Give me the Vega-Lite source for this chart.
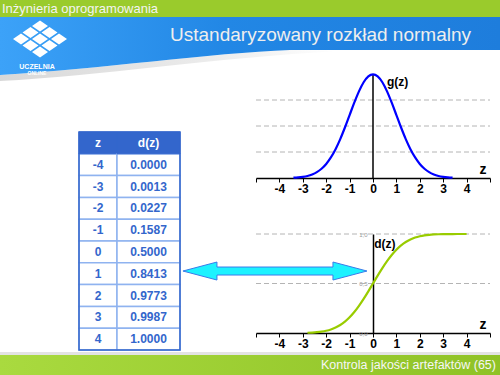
{
  "$schema": "https://vega.github.io/schema/vega-lite/v6.json",
  "padding": 0,
  "background": "white",
  "spacing": 0,
  "bounds": "flush",
  "config": {"view": {"stroke": null}, "font": "Liberation Sans", "concat": {"spacing": 0}},
  "datasets": {
    "table": [
      {"z": "-4", "d": "0.0000"}, {"z": "-3", "d": "0.0013"}, {"z": "-2", "d": "0.0227"},
      {"z": "-1", "d": "0.1587"}, {"z": "0", "d": "0.5000"}, {"z": "1", "d": "0.8413"},
      {"z": "2", "d": "0.9773"}, {"z": "3", "d": "0.9987"}, {"z": "4", "d": "1.0000"}
    ],
    "pdf": [
      {"z": -3.4, "g": 0.0012}, {"z": -3.2, "g": 0.0024}, {"z": -3.0, "g": 0.0044}, {"z": -2.8, "g": 0.0079},
      {"z": -2.6, "g": 0.0136}, {"z": -2.4, "g": 0.0224}, {"z": -2.2, "g": 0.0355}, {"z": -2.0, "g": 0.0540},
      {"z": -1.8, "g": 0.0790}, {"z": -1.6, "g": 0.1109}, {"z": -1.4, "g": 0.1497}, {"z": -1.2, "g": 0.1942},
      {"z": -1.0, "g": 0.2420}, {"z": -0.8, "g": 0.2897}, {"z": -0.6, "g": 0.3332}, {"z": -0.4, "g": 0.3683},
      {"z": -0.2, "g": 0.3910}, {"z": 0, "g": 0.3989}, {"z": 0.2, "g": 0.3910}, {"z": 0.4, "g": 0.3683},
      {"z": 0.6, "g": 0.3332}, {"z": 0.8, "g": 0.2897}, {"z": 1.0, "g": 0.2420}, {"z": 1.2, "g": 0.1942},
      {"z": 1.4, "g": 0.1497}, {"z": 1.6, "g": 0.1109}, {"z": 1.8, "g": 0.0790}, {"z": 2.0, "g": 0.0540},
      {"z": 2.2, "g": 0.0355}, {"z": 2.4, "g": 0.0224}, {"z": 2.6, "g": 0.0136}, {"z": 2.8, "g": 0.0079},
      {"z": 3.0, "g": 0.0044}, {"z": 3.2, "g": 0.0024}, {"z": 3.4, "g": 0.0012}
    ],
    "cdf": [
      {"z": -2.8, "d": 0.0026}, {"z": -2.6, "d": 0.0047}, {"z": -2.4, "d": 0.0082}, {"z": -2.2, "d": 0.0139},
      {"z": -2.0, "d": 0.0228}, {"z": -1.8, "d": 0.0359}, {"z": -1.6, "d": 0.0548}, {"z": -1.4, "d": 0.0808},
      {"z": -1.2, "d": 0.1151}, {"z": -1.0, "d": 0.1587}, {"z": -0.8, "d": 0.2119}, {"z": -0.6, "d": 0.2743},
      {"z": -0.4, "d": 0.3446}, {"z": -0.2, "d": 0.4207}, {"z": 0, "d": 0.5}, {"z": 0.2, "d": 0.5793},
      {"z": 0.4, "d": 0.6554}, {"z": 0.6, "d": 0.7257}, {"z": 0.8, "d": 0.7881}, {"z": 1.0, "d": 0.8413},
      {"z": 1.2, "d": 0.8849}, {"z": 1.4, "d": 0.9192}, {"z": 1.6, "d": 0.9452}, {"z": 1.8, "d": 0.9641},
      {"z": 2.0, "d": 0.9772}, {"z": 2.2, "d": 0.9861}, {"z": 2.4, "d": 0.9918}, {"z": 2.6, "d": 0.9953},
      {"z": 2.8, "d": 0.9974}, {"z": 3.0, "d": 0.9987}, {"z": 3.2, "d": 0.9993}, {"z": 3.4, "d": 0.9997},
      {"z": 3.6, "d": 0.9998}, {"z": 3.8, "d": 0.9999}, {"z": 4.0, "d": 1.0}
    ]
  },
  "vconcat": [
    {
      "width": 500, "height": 17,
      "view": {"fill": "#9ACB2C"},
      "data": {"values": [{}]},
      "mark": {"type": "text", "text": "Inżynieria oprogramowania", "x": 0, "dx": 2, "y": "height", "dy": -8.5, "align": "left", "baseline": "middle", "fontSize": 13, "color": "#F4F4F4"},
      "encoding": {}
    },
    {
      "width": 500, "height": 33,
      "data": {"values": [{}]},
      "layer": [
        {"mark": {"type": "point", "shape": "M290,33C210,36 100,52 0,58L0,64C100,59 210,41 340,34Z", "x": 0, "y": 0, "size": 4, "filled": true, "opacity": 1, "strokeWidth": 0,
          "fill": {"gradient": "linear", "x1": 0, "y1": 0, "x2": 1, "y2": 0, "stops": [{"offset": 0, "color": "#D8D8D8"}, {"offset": 0.6, "color": "#EBEBEB"}, {"offset": 1, "color": "#FFFFFF"}]}}, "encoding": {}},
        {"mark": {"type": "point", "shape": "M0,0L500,0L500,33L290,33C210,36 100,52 0,58Z", "x": 0, "y": 0, "size": 4, "filled": true, "opacity": 1, "strokeWidth": 0,
          "fill": {"gradient": "linear", "x1": 0, "y1": 0, "x2": 1, "y2": 0, "stops": [{"offset": 0, "color": "#3CA2F8"}, {"offset": 0.45, "color": "#2287E5"}, {"offset": 1, "color": "#1E7DDC"}]}}, "encoding": {}},
        {"mark": {"type": "point", "shape": "M32,9L40,3.5L48,9L40,14.5ZM41.5,15.5L49.5,10L57.5,15.5L49.5,21ZM51,22L59,16.5L67,22L59,27.5ZM22.5,15.5L30.5,10L38.5,15.5L30.5,21ZM32,22L40,16.5L48,22L40,27.5ZM41.5,28.5L49.5,23L57.5,28.5L49.5,34ZM13,22L21,16.5L29,22L21,27.5ZM22.5,28.5L30.5,23L38.5,28.5L30.5,34ZM32,35L40,29.5L48,35L40,40.5Z", "x": 0, "y": 0, "size": 4, "filled": true, "opacity": 1, "fill": "white", "strokeWidth": 0}, "encoding": {}},
        {"mark": {"type": "text", "text": "UCZELNIA", "x": 37, "y": 49.5, "align": "center", "baseline": "middle", "fontSize": 7, "fontWeight": "bold", "color": "white"}, "encoding": {}},
        {"mark": {"type": "text", "text": "ONLINE", "x": 37, "y": 55.5, "align": "center", "baseline": "middle", "fontSize": 5, "fontWeight": "bold", "color": "white"}, "encoding": {}},
        {"mark": {"type": "text", "text": "Ustandaryzowany rozkład normalny", "x": "width", "dx": -29, "y": "height", "dy": -15.5, "align": "right", "baseline": "middle", "fontSize": 19, "color": "#EEEEEE"}, "encoding": {}}
      ]
    },
    {
      "width": 500, "height": 305,
      "resolve": {"scale": {"x": "independent", "y": "independent"}, "axis": {"x": "independent", "y": "independent"}},
      "layer": [
        {
          "encoding": {"x": {"datum": "z", "type": "nominal", "scale": {"domain": ["z"], "range": [79, 117], "paddingInner": 0, "paddingOuter": 0}, "axis": null}},
          "layer": [
            {"data": {"name": "table"}, "mark": {"type": "rect", "fill": "white", "stroke": "#8FB3F0", "strokeWidth": 1.5},
              "encoding": {"y": {"field": "z", "type": "ordinal", "scale": {"domain": ["hdr", "-4", "-3", "-2", "-1", "0", "1", "2", "3", "4"], "range": [82, 300], "paddingInner": 0, "paddingOuter": 0}, "axis": null}}},
            {"data": {"name": "table"}, "mark": {"type": "text", "fontWeight": "bold", "fontSize": 12, "color": "#3366CC"},
              "encoding": {"y": {"field": "z", "type": "ordinal", "axis": null}, "text": {"field": "z", "type": "nominal"}}},
            {"data": {"values": [{"label": "z"}]}, "mark": {"type": "rect", "fill": "#3366CC", "stroke": "#3366CC", "strokeWidth": 1},
              "encoding": {"y": {"datum": "hdr", "type": "ordinal", "axis": null}}},
            {"data": {"values": [{"label": "z"}]}, "mark": {"type": "text", "fontWeight": "bold", "fontSize": 12, "color": "white"},
              "encoding": {"y": {"datum": "hdr", "type": "ordinal", "axis": null}, "text": {"field": "label", "type": "nominal"}}}
          ]
        },
        {
          "encoding": {"x": {"datum": "d", "type": "nominal", "scale": {"domain": ["d"], "range": [117, 180], "paddingInner": 0, "paddingOuter": 0}, "axis": null}},
          "layer": [
            {"data": {"name": "table"}, "mark": {"type": "rect", "fill": "white", "stroke": "#8FB3F0", "strokeWidth": 1.5},
              "encoding": {"y": {"field": "z", "type": "ordinal", "scale": {"domain": ["hdr", "-4", "-3", "-2", "-1", "0", "1", "2", "3", "4"], "range": [82, 300], "paddingInner": 0, "paddingOuter": 0}, "axis": null}}},
            {"data": {"name": "table"}, "mark": {"type": "text", "fontWeight": "bold", "fontSize": 12, "color": "#3366CC"},
              "encoding": {"y": {"field": "z", "type": "ordinal", "axis": null}, "text": {"field": "d", "type": "nominal"}}},
            {"data": {"values": [{"label": "d(z)"}]}, "mark": {"type": "rect", "fill": "#3366CC", "stroke": "#3366CC", "strokeWidth": 1},
              "encoding": {"y": {"datum": "hdr", "type": "ordinal", "axis": null}}},
            {"data": {"values": [{"label": "d(z)"}]}, "mark": {"type": "text", "fontWeight": "bold", "fontSize": 12, "color": "white"},
              "encoding": {"y": {"datum": "hdr", "type": "ordinal", "axis": null}, "text": {"field": "label", "type": "nominal"}}}
          ]
        },
        {
          "data": {"values": [{"label": "table"}]},
          "mark": {"type": "rect", "fill": null, "fillOpacity": 0, "stroke": "#3366CC", "strokeWidth": 1.5},
          "encoding": {
            "x": {"datum": "t", "type": "nominal", "scale": {"domain": ["t"], "range": [79, 180], "paddingInner": 0, "paddingOuter": 0}, "axis": null},
            "y": {"datum": "t", "type": "nominal", "scale": {"domain": ["t"], "range": [82, 300], "paddingInner": 0, "paddingOuter": 0}, "axis": null}
          }
        },
        {
          "layer": [
            {"data": {"values": [{}]}, "mark": {"type": "rule", "color": "#B4B4B4", "strokeDash": [5, 3], "strokeWidth": 1},
              "encoding": {
                "x": {"datum": -5, "type": "quantitative", "scale": {"domain": [-5, 5], "range": [256, 490], "nice": false, "zero": false},
                  "axis": {"orient": "bottom", "offset": -177, "values": [-5, -4, -3, -2, -1, 0, 1, 2, 3, 4, 5], "labelExpr": "abs(datum.value) > 4.5 ? '' : toString(datum.value)", "grid": false, "domainColor": "black", "domainWidth": 1.5, "tickColor": "black", "tickSize": 4, "tickWidth": 1, "labelFontWeight": "bold", "labelFontSize": 12, "labelColor": "black", "labelPadding": 1, "labelFlush": false, "labelOverlap": false, "title": null}},
                "x2": {"datum": 5},
                "y": {"datum": 0.1, "type": "quantitative", "scale": {"domain": [0, 0.4], "range": [128, 24], "nice": false, "zero": false}, "axis": null}
              }},
            {"data": {"values": [{}]}, "mark": {"type": "rule", "color": "#B4B4B4", "strokeDash": [5, 3], "strokeWidth": 1},
              "encoding": {"x": {"datum": -5, "type": "quantitative"}, "x2": {"datum": 5}, "y": {"datum": 0.2, "type": "quantitative", "axis": null}}},
            {"data": {"values": [{}]}, "mark": {"type": "rule", "color": "#B4B4B4", "strokeDash": [5, 3], "strokeWidth": 1},
              "encoding": {"x": {"datum": -5, "type": "quantitative"}, "x2": {"datum": 5}, "y": {"datum": 0.3, "type": "quantitative", "axis": null}}},
            {
              "data": {"name": "pdf"},
              "transform": [{"filter": "datum.z == 0"}],
              "mark": {"type": "rule", "color": "black", "strokeWidth": 1.5},
              "encoding": {"x": {"field": "z", "type": "quantitative"}, "y": {"field": "g", "type": "quantitative", "axis": null}, "y2": {"datum": 0}}
            },
            {
              "data": {"name": "pdf"},
              "mark": {"type": "line", "color": "#0000FF", "strokeWidth": 2.2, "interpolate": "monotone"},
              "encoding": {"x": {"field": "z", "type": "quantitative"}, "y": {"field": "g", "type": "quantitative", "axis": null}}
            },
            {
              "data": {"values": [{"label": "g(z)"}]},
              "mark": {"type": "text", "align": "left", "baseline": "middle", "fontSize": 12, "fontWeight": "bold"},
              "encoding": {"x": {"datum": 0.6, "type": "quantitative"}, "y": {"datum": 0.37, "type": "quantitative", "axis": null}, "text": {"field": "label", "type": "nominal"}}
            },
            {
              "data": {"values": [{"label": "z"}]},
              "mark": {"type": "text", "align": "center", "baseline": "bottom", "fontSize": 14, "fontWeight": "bold", "dy": -1},
              "encoding": {"x": {"datum": 4.7, "type": "quantitative"}, "y": {"datum": 0, "type": "quantitative", "axis": null}, "text": {"field": "label", "type": "nominal"}}
            }
          ]
        },
        {
          "layer": [
            {"data": {"values": [{}]}, "mark": {"type": "rule", "color": "#B4B4B4", "strokeDash": [5, 3], "strokeWidth": 1},
              "encoding": {
                "x": {"datum": -5, "type": "quantitative", "scale": {"domain": [-5, 5], "range": [256, 490], "nice": false, "zero": false},
                  "axis": {"orient": "bottom", "offset": -22, "values": [-5, -4, -3, -2, -1, 0, 1, 2, 3, 4, 5], "labelExpr": "abs(datum.value) > 4.5 ? '' : toString(datum.value)", "grid": false, "domainColor": "black", "domainWidth": 1.5, "tickColor": "black", "tickSize": 4, "tickWidth": 1, "labelFontWeight": "bold", "labelFontSize": 12, "labelColor": "black", "labelPadding": 1, "labelFlush": false, "labelOverlap": false, "title": null}},
                "x2": {"datum": 5},
                "y": {"datum": 1, "type": "quantitative", "scale": {"domain": [0, 1], "range": [283, 184], "nice": false, "zero": false},
                  "axis": {"orient": "left", "offset": -373, "values": [0, 0.5, 1], "grid": false, "domain": true, "domainColor": "black", "domainWidth": 1.5, "ticks": false, "labelExpr": "replace(format(datum.value, '.1f'), '.', ',')", "labelFontSize": 6, "labelColor": "#999999", "labelPadding": 6, "labelOverlap": false, "labelFlush": false, "title": null}}
              }},
            {"data": {"values": [{}]}, "mark": {"type": "rule", "color": "#B4B4B4", "strokeDash": [5, 3], "strokeWidth": 1},
              "encoding": {"x": {"datum": -5, "type": "quantitative"}, "x2": {"datum": 5}, "y": {"datum": 0.5, "type": "quantitative"}}},
            {
              "data": {"name": "cdf"},
              "mark": {"type": "line", "color": "#99CC00", "strokeWidth": 2.2, "interpolate": "monotone"},
              "encoding": {"x": {"field": "z", "type": "quantitative"}, "y": {"field": "d", "type": "quantitative"}}
            },
            {
              "data": {"values": [{"label": "d(z)"}]},
              "mark": {"type": "text", "align": "left", "baseline": "middle", "fontSize": 12, "fontWeight": "bold"},
              "encoding": {"x": {"datum": 0.05, "type": "quantitative"}, "y": {"datum": 0.9, "type": "quantitative"}, "text": {"field": "label", "type": "nominal"}}
            },
            {
              "data": {"values": [{"label": "z"}]},
              "mark": {"type": "text", "align": "center", "baseline": "bottom", "fontSize": 14, "fontWeight": "bold", "dy": -1},
              "encoding": {"x": {"datum": 4.7, "type": "quantitative"}, "y": {"datum": 0, "type": "quantitative"}, "text": {"field": "label", "type": "nominal"}}
            },
            {
              "data": {"values": [{"label": "arrow"}]},
              "mark": {"type": "point", "shape": "M-92,0L-58,-9L-58,-4L58,-4L58,-9L92,0L58,9L58,4L-58,4L-58,9Z", "size": 4, "filled": true, "opacity": 1, "fill": "#1CF2FF", "stroke": "#3A7BEA", "strokeWidth": 1},
              "encoding": {"x": {"datum": -4.19, "type": "quantitative"}, "y": {"datum": 0.626, "type": "quantitative"}}
            }
          ]
        }
      ]
    },
    {
      "width": 500, "height": 20,
      "data": {"values": [{}]},
      "layer": [
        {"mark": {"type": "point", "shape": "M0,-3L500,-3L500,0L0,0Z", "x": 0, "y": 0, "size": 4, "filled": true, "opacity": 1, "strokeWidth": 0, "fill": "#E3E3E3"}, "encoding": {}},
        {"mark": {"type": "point", "shape": "M0,0L500,0L500,20L0,20Z", "x": 0, "y": 0, "size": 4, "filled": true, "opacity": 1, "strokeWidth": 0,
          "fill": {"gradient": "linear", "x1": 0, "x2": 1, "y1": 0, "y2": 0, "stops": [{"offset": 0, "color": "#A9DA3F"}, {"offset": 1, "color": "#8FC226"}]}}, "encoding": {}},
        {"mark": {"type": "text", "text": "Kontrola jakości artefaktów (65)", "x": "width", "dx": -4, "y": "height", "dy": -10, "align": "right", "baseline": "middle", "fontSize": 12.5, "color": "#F6F6F6"}, "encoding": {}}
      ]
    }
  ]
}
